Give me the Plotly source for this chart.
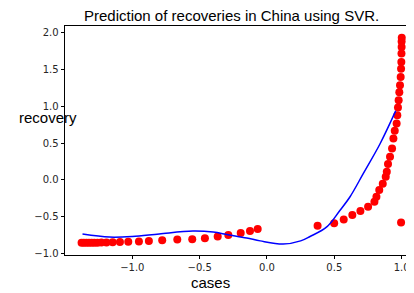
import plotly.graph_objects as go

# observed data (cases vs recovery, scaled)
cases = [-1.377, -1.360, -1.341, -1.322, -1.302, -1.282, -1.259, -1.230, -1.192, -1.146,
         -1.092, -1.030, -0.951, -0.877, -0.778, -0.666, -0.555, -0.461, -0.366, -0.287,
         -0.195, -0.126, -0.069,
         0.376, 0.499, 0.570, 0.634, 0.694, 0.751, 0.798, 0.813, 0.834, 0.860,
         0.882, 0.890, 0.899, 0.914, 0.929, 0.939, 0.949, 0.963, 0.968, 0.973,
         0.978, 0.983, 0.988, 0.993, 0.996, 0.998, 0.999, 1.000, 1.000, 1.001, 0.996]
recovery = [-0.857, -0.857, -0.857, -0.856, -0.856, -0.855, -0.855, -0.853, -0.852, -0.850,
            -0.846, -0.842, -0.838, -0.833, -0.823, -0.812, -0.808, -0.795, -0.770, -0.750,
            -0.722, -0.696, -0.669,
            -0.624, -0.592, -0.540, -0.479, -0.425, -0.366, -0.298, -0.230, -0.140, -0.055,
            0.040, 0.110, 0.213, 0.312, 0.426, 0.561, 0.665, 0.765, 0.878, 0.982,
            1.080, 1.190, 1.285, 1.398, 1.510, 1.600, 1.715, 1.805, 1.880, 1.930, -0.580]

# SVR prediction curve
pred_x = [-1.37, -1.17, -1.0, -0.8, -0.55, -0.4, -0.29, -0.15, -0.05, 0.12,
          0.25, 0.32, 0.444, 0.54, 0.617, 0.716, 0.84, 0.956]
pred_y = [-0.737, -0.778, -0.77, -0.735, -0.696, -0.71, -0.746, -0.79, -0.83, -0.873,
          -0.83, -0.77, -0.64, -0.42, -0.23, 0.087, 0.49, 0.936]

x_tickvals = [-1.0, -0.5, 0.0, 0.5, 1.0]
x_ticktext = ["\u22121.0", "\u22120.5", "0.0", "0.5", "1.0"]
y_tickvals = [-1.0, -0.5, 0.0, 0.5, 1.0, 1.5, 2.0]
y_ticktext = ["\u22121.0", "\u22120.5", "0.0", "0.5", "1.0", "1.5", "2.0"]

title_text = "Prediction of recoveries in China using SVR."
xlabel = "cases"
ylabel = "recovery"

fig = go.Figure()
fig.add_trace(go.Scatter(x=cases, y=recovery, mode="markers",
                         marker=dict(color="#ff0000", size=8, line=dict(width=0)),
                         showlegend=False, cliponaxis=False))
fig.add_trace(go.Scatter(x=pred_x, y=pred_y, mode="lines",
                         line=dict(color="#0000ff", width=1.5, shape="spline"),
                         showlegend=False))

axis_common = dict(showgrid=False, zeroline=False, showline=True, linecolor="#000000",
                   linewidth=0.8, mirror=True, ticks="outside", ticklen=3.5, tickwidth=0.8,
                   tickcolor="#000000",
                   tickfont=dict(family="DejaVu Sans", size=10, color="#262626"))

# page body adds an 8px offset; plot area spans page px x 65..414, y 26..255
fig.update_layout(
    width=406, height=285,
    margin=dict(l=57, r=0, t=18, b=38),
    paper_bgcolor="white", plot_bgcolor="white",
    xaxis=dict(range=[-1.50, 1.092], tickvals=x_tickvals, ticktext=x_ticktext, **axis_common),
    yaxis=dict(range=[-1.022, 2.09], tickvals=y_tickvals, ticktext=y_ticktext, **axis_common),
    annotations=[
        dict(text=title_text, xref="paper", yref="paper", x=0.4785, y=1.048,
             xanchor="center", yanchor="middle", showarrow=False,
             font=dict(family="Liberation Sans", size=15, color="#000000")),
        dict(text=ylabel, xref="paper", yref="paper", x=-0.050, y=0.6026,
             xanchor="center", yanchor="middle", showarrow=False,
             font=dict(family="Liberation Sans", size=15, color="#000000")),
        dict(text=xlabel, xref="paper", yref="paper", x=0.418, y=-0.122,
             xanchor="center", yanchor="middle", showarrow=False,
             font=dict(family="Liberation Sans", size=15, color="#000000")),
    ],
)

fig.write_html("out.html")
